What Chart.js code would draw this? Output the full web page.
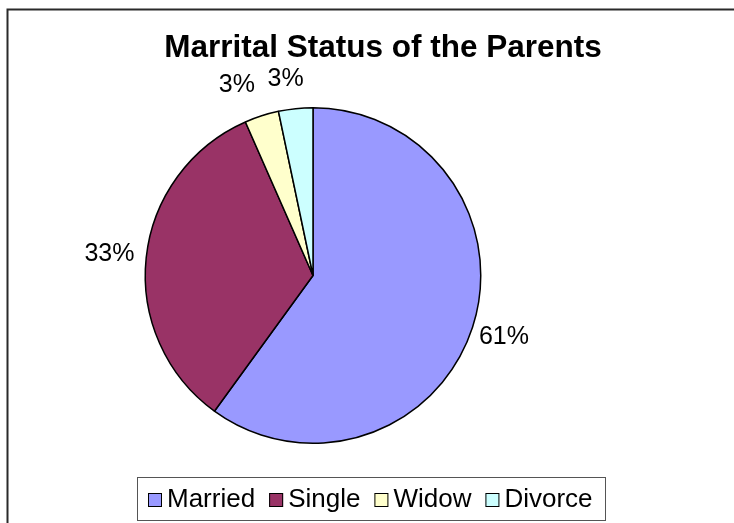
<!DOCTYPE html>
<html>
<head>
<meta charset="utf-8">
<script src="https://cdn.jsdelivr.net/npm/chart.js@4.4.1/dist/chart.umd.min.js"></script>
<style>
  body { margin: 0; background: #fff; }
  canvas { display: block; }
</style>
</head>
<body>
<canvas id="pieChart" width="734" height="523"></canvas>
<script>
const titleText = 'Marrital Status of the Parents';
const statusLabels = ['Married', 'Single', 'Widow', 'Divorce'];
// slice sizes
const statusShares = [60, 33.4, 3.3, 3.3];
// percentage texts printed next to each slice
const percentLabels = ['61%', '33%', '3%', '3%'];
const sliceColors = ['#9999FF', '#993366', '#FFFFCC', '#CCFFFF'];

const FONT = '"Liberation Sans", Arial, sans-serif';

// frame, title, outside labels and the boxed legend
const decorPlugin = {
  id: 'decor',
  afterDraw(chart, args, opts) {
    const ctx = chart.ctx;
    ctx.save();

    // frame (only top and left visible)
    ctx.strokeStyle = '#2a2a2a';
    ctx.lineWidth = 2;
    ctx.beginPath();
    ctx.moveTo(7.5, 523);
    ctx.lineTo(7.5, 9.5);
    ctx.lineTo(734, 9.5);
    ctx.stroke();

    // title
    ctx.fillStyle = '#000';
    ctx.font = 'bold 31.5px ' + FONT;
    ctx.textAlign = 'center';
    ctx.textBaseline = 'alphabetic';
    ctx.fillText(titleText, 383, 57);

    // percent labels outside the slices
    ctx.font = '25px ' + FONT;
    ctx.textBaseline = 'middle';
    const meta = chart.getDatasetMeta(0);
    meta.data.forEach((arc, i) => {
      const p = arc.getProps(['x', 'y', 'startAngle', 'endAngle', 'outerRadius'], true);
      const mid = (p.startAngle + p.endAngle) / 2 + opts.angleShift[i] * Math.PI / 180;
      const d = p.outerRadius + opts.distance[i];
      ctx.fillText(percentLabels[i], p.x + Math.cos(mid) * d, p.y + Math.sin(mid) * d);
    });

    // legend
    const box = opts.legendBox;
    ctx.strokeStyle = '#555';
    ctx.lineWidth = 1;
    ctx.strokeRect(box.x + 0.5, box.y + 0.5, box.w, box.h);
    ctx.font = '26px ' + FONT;
    ctx.textAlign = 'left';
    let x = box.x + 11;
    const cy = box.y + box.h / 2 + 1.5;
    statusLabels.forEach((lab, i) => {
      ctx.fillStyle = sliceColors[i];
      ctx.fillRect(x, cy - 7, 14, 14);
      ctx.strokeStyle = '#000';
      ctx.strokeRect(x + 0.5, cy - 6.5, 13, 13);
      ctx.fillStyle = '#000';
      ctx.fillText(lab, x + 19, cy);
      x += 19 + ctx.measureText(lab).width + 14;
    });

    ctx.restore();
  }
};

new Chart(document.getElementById('pieChart'), {
  type: 'pie',
  data: {
    labels: statusLabels,
    datasets: [{
      data: statusShares,
      backgroundColor: sliceColors,
      borderColor: '#000',
      borderWidth: 1.5
    }]
  },
  options: {
    responsive: false,
    animation: false,
    devicePixelRatio: 1,
    layout: {
      padding: { left: 144, top: 107, right: 252, bottom: 79 }
    },
    plugins: {
      legend: { display: false },
      title: { display: false },
      tooltip: { enabled: false },
      decor: {
        distance: [33, 37, 37, 31],
        angleShift: [0, 0, -4, -2],
        legendBox: { x: 137, y: 477, w: 468, h: 43 }
      }
    }
  },
  plugins: [decorPlugin]
});
</script>
</body>
</html>
